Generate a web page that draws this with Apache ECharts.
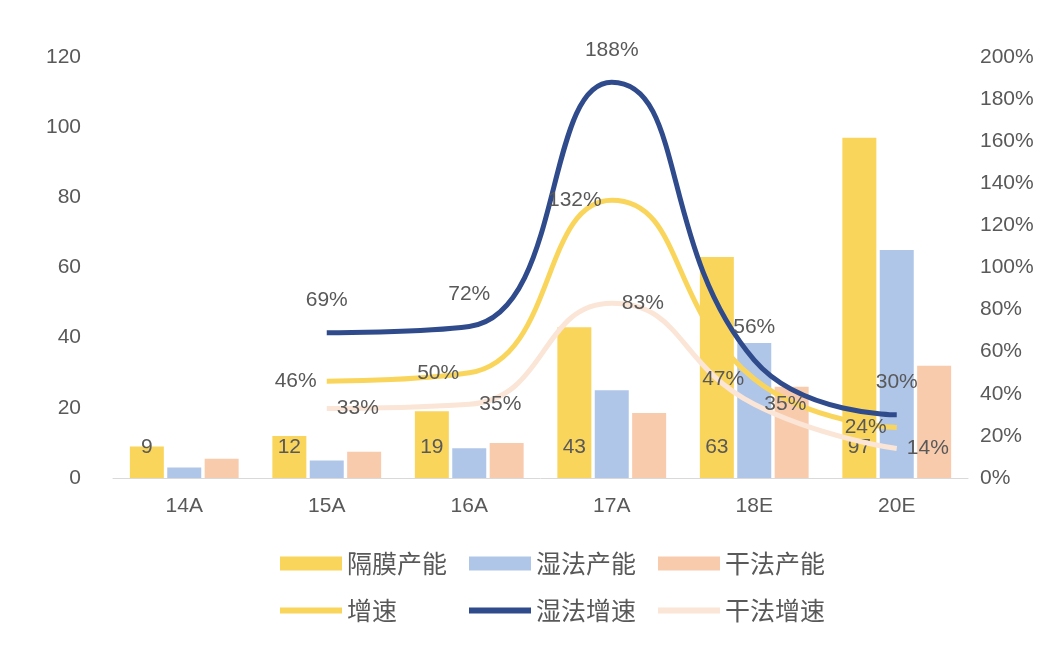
<!DOCTYPE html>
<html>
<head>
<meta charset="utf-8">
<script src="https://cdn.jsdelivr.net/npm/echarts@6/dist/echarts.min.js"></script>
<style>html,body{margin:0;padding:0;background:#fff}#c{width:1064px;height:654px}</style>
</head>
<body>
<div id="c"></div>
<script>
var categories = ['14A', '15A', '16A', '17A', '18E', '20E'];
var capTotal = [9, 12, 19, 43, 63, 97];
var capWet = [3, 5, 8.5, 25, 38.5, 65];
var capDry = [5.5, 7.5, 10, 18.5, 26, 32];
var growTotal = [null, 46, 50, 132, 47, 24];
var growWet = [null, 69, 72, 188, 56, 30];
var growDry = [null, 33, 35, 83, 35, 14];
var leftTicks = [0, 120, 20];
var rightTicks = [0, 200, 20];

var chart = echarts.init(document.getElementById('c'));
var gray = '#595959';
var lbl = {show: true, color: gray, fontSize: 21, fontFamily: 'Liberation Sans'};
function pct(p) { return p.value + '%'; }
var legendText = {fontSize: 25, color: gray, fontFamily: 'Noto Sans CJK SC'};

chart.setOption({
  animation: false,
  grid: {left: 113, right: 96, top: 57, bottom: 176},
  legend: [
    {top: 546, left: 275, itemGap: 22, itemWidth: 62, itemHeight: 14, icon: 'rect',
     textStyle: legendText, data: ['隔膜产能', '湿法产能', '干法产能']},
    {top: 593, left: 275, itemGap: 22, itemWidth: 62, itemHeight: 6, icon: 'rect',
     textStyle: legendText, data: ['增速', '湿法增速', '干法增速'],
     formatter: function (n) { return n === '增速' ? n + '\u3000\u3000' : n; }}
  ],
  xAxis: {
    type: 'category', data: categories,
    axisLine: {lineStyle: {color: '#d9d9d9'}}, axisTick: {show: false},
    axisLabel: {color: gray, fontSize: 21, margin: 18, fontFamily: 'Liberation Sans'}
  },
  yAxis: [
    {type: 'value', min: leftTicks[0], max: leftTicks[1], interval: leftTicks[2],
     splitLine: {show: false}, axisLine: {show: false},
     axisLabel: {color: gray, fontSize: 21, margin: 32, fontFamily: 'Liberation Sans'}},
    {type: 'value', min: rightTicks[0], max: rightTicks[1], interval: rightTicks[2],
     splitLine: {show: false}, axisLine: {show: false},
     axisLabel: {color: gray, fontSize: 21, margin: 12, formatter: '{value}%', fontFamily: 'Liberation Sans'}}
  ],
  series: [
    {name: '隔膜产能', type: 'bar', data: capTotal, barWidth: 34, barGap: '10%',
     itemStyle: {color: '#FAD55C'}, label: Object.assign({position: 'insideBottom', distance: 20}, lbl)},
    {name: '湿法产能', type: 'bar', data: capWet, barWidth: 34, barGap: '10%',
     itemStyle: {color: '#AFC6E8'}},
    {name: '干法产能', type: 'bar', data: capDry, barWidth: 34, barGap: '10%',
     itemStyle: {color: '#F8CBAD'}},
    {name: '增速', type: 'line', yAxisIndex: 1, smooth: true, data: growTotal,
     symbol: 'circle', symbolSize: 0.1, showAllSymbol: true,
     lineStyle: {color: '#FAD55C', width: 5}, itemStyle: {color: '#FAD55C'},
     label: Object.assign({position: 'left', distance: 10, formatter: pct}, lbl)},
    {name: '湿法增速', type: 'line', yAxisIndex: 1, smooth: true, data: growWet,
     symbol: 'circle', symbolSize: 0.1, showAllSymbol: true,
     lineStyle: {color: '#2F4B8C', width: 5}, itemStyle: {color: '#2F4B8C'},
     label: Object.assign({position: 'top', distance: 22, formatter: pct}, lbl)},
    {name: '干法增速', type: 'line', yAxisIndex: 1, smooth: true, data: growDry,
     symbol: 'circle', symbolSize: 0.1, showAllSymbol: true,
     lineStyle: {color: '#FBE5D6', width: 5}, itemStyle: {color: '#FBE5D6'},
     label: Object.assign({position: 'right', distance: 10, formatter: pct}, lbl)}
  ]
});
</script>
</body>
</html>
